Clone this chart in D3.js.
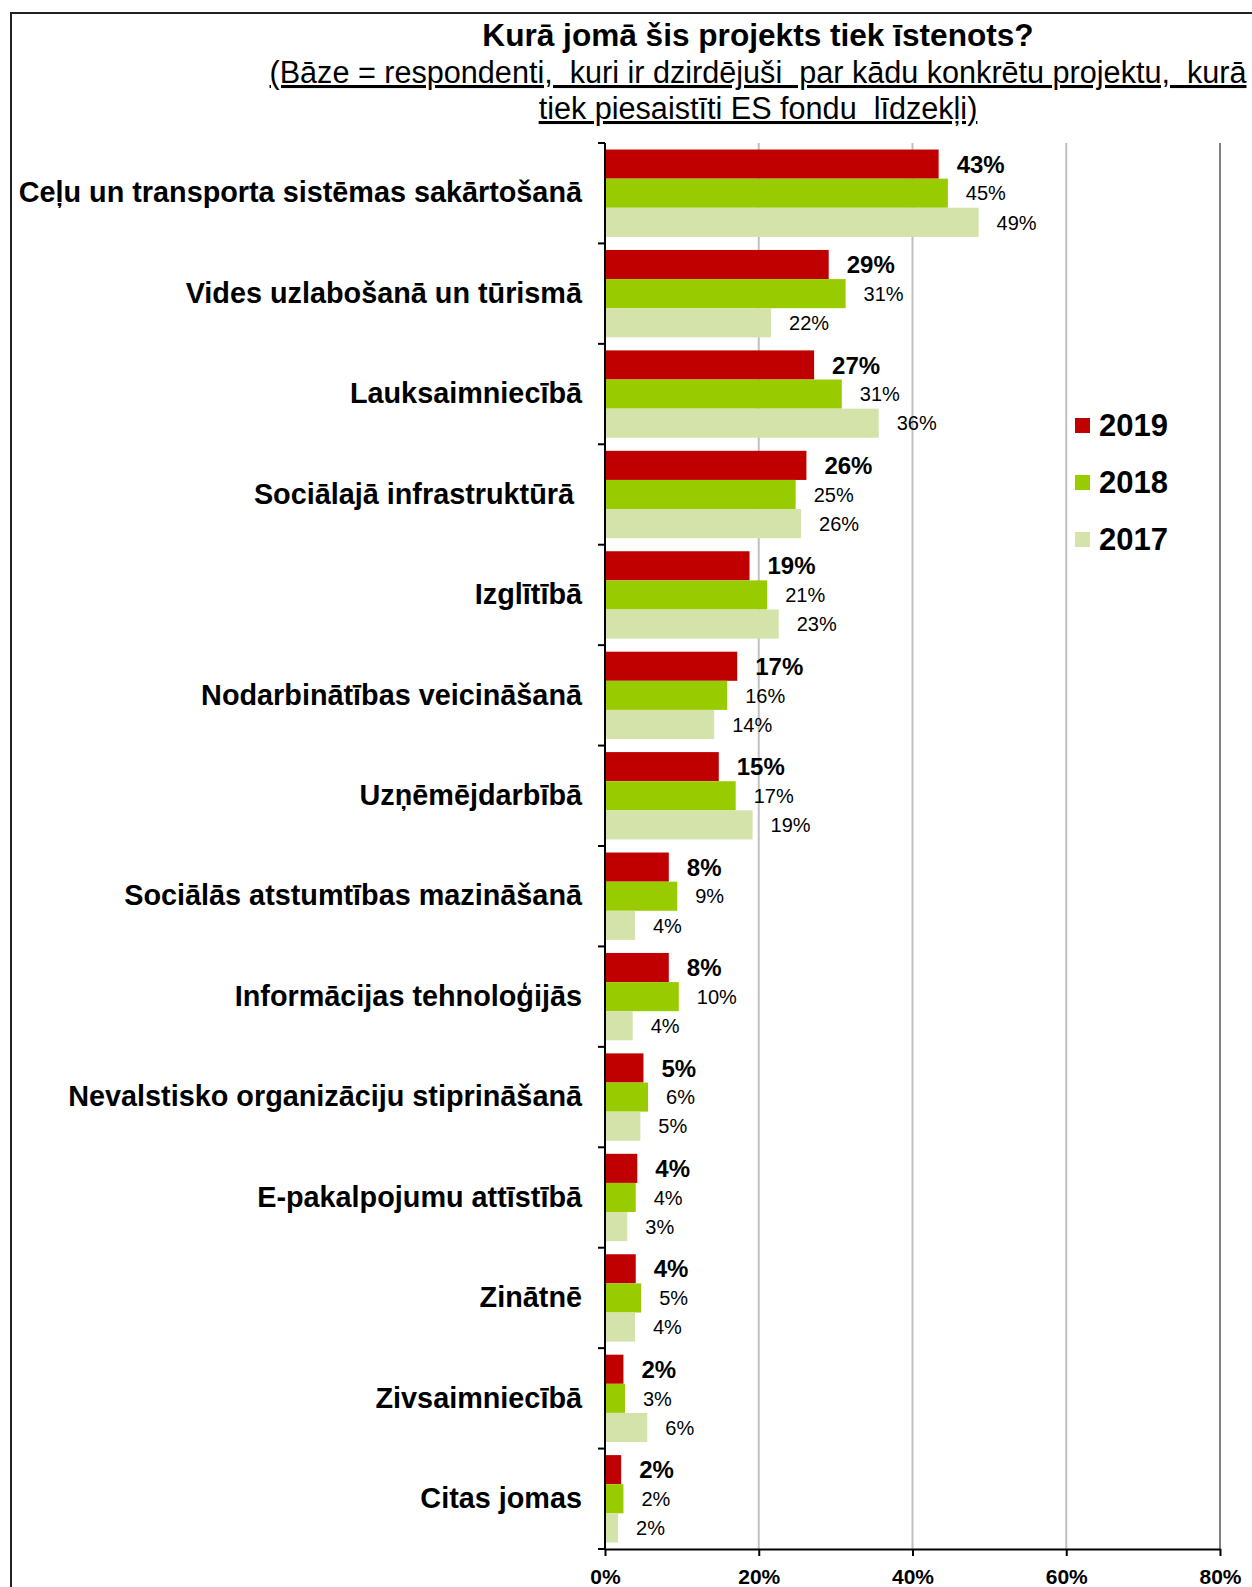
<!DOCTYPE html>
<html>
<head>
<meta charset="utf-8">
<script src="https://cdn.jsdelivr.net/npm/d3@7"></script>
<style>
  html, body { margin: 0; padding: 0; background: #fff; }
  svg { display: block; }
  text { font-family: "Liberation Sans", Arial, sans-serif; fill: #000; }
</style>
</head>
<body>
<svg id="chart" width="1252" height="1587"></svg>
<script>
const categories = [
  "Ceļu un transporta sistēmas sakārtošanā",
  "Vides uzlabošanā un tūrismā",
  "Lauksaimniecībā",
  "Sociālajā infrastruktūrā ",
  "Izglītībā",
  "Nodarbinātības veicināšanā",
  "Uzņēmējdarbībā",
  "Sociālās atstumtības mazināšanā",
  "Informācijas tehnoloģijās",
  "Nevalstisko organizāciju stiprināšanā",
  "E-pakalpojumu attīstībā",
  "Zinātnē",
  "Zivsaimniecībā",
  "Citas jomas"
];
const seriesNames = ["2019", "2018", "2017"];
const values2019 = [43.4, 29.1, 27.2, 26.2, 18.8, 17.2, 14.8, 8.3, 8.3, 5.0, 4.2, 4.0, 2.4, 2.1];
const values2018 = [44.6, 31.3, 30.8, 24.8, 21.1, 15.9, 17.0, 9.4, 9.6, 5.6, 4.0, 4.7, 2.6, 2.4];
const values2017 = [48.6, 21.6, 35.6, 25.5, 22.6, 14.2, 19.2, 3.9, 3.6, 4.6, 2.9, 3.9, 5.5, 1.7];
const xTicks = [0, 20, 40, 60, 80];
const colors = ["#C00000", "#99CC00", "#D3E3AA"];
const titleText = "Kurā jomā šis projekts tiek īstenots?";
const subtitleLines = [
  "(Bāze = respondenti,  kuri ir dzirdējuši  par kādu konkrētu projektu,  kurā",
  "tiek piesaistīti ES fondu  līdzekļi)"
];

const seriesValues = [values2019, values2018, values2017];
const svg = d3.select("#chart");

// outer frame
svg.append("rect").attr("x", 11).attr("y", 13).attr("width", 1400).attr("height", 1800)
  .attr("fill", "none").attr("stroke", "#222").attr("stroke-width", 2);

// title
svg.append("text").attr("x", 758).attr("y", 46).attr("text-anchor", "middle")
  .style("font-size", "31.6px").style("font-weight", "bold").text(titleText);
svg.selectAll(".sub").data(subtitleLines).join("text")
  .attr("class", "sub")
  .attr("x", 758).attr("y", (d, i) => 83 + i * 36)
  .attr("text-anchor", "middle")
  .style("font-size", "30.6px").style("white-space", "pre")
  .style("text-decoration", "underline")
  .text(d => d);

const x = d3.scaleLinear().domain([0, 80]).range([605, 1220]);
const y = d3.scaleBand().domain(categories).range([143, 1549]).paddingInner(0.13).paddingOuter(0.065);
const yInner = d3.scaleBand().domain(seriesNames).range([0, y.bandwidth()]);

// gridlines
svg.append("g").selectAll("line").data(xTicks.slice(1)).join("line")
  .attr("x1", d => x(d)).attr("x2", d => x(d))
  .attr("y1", 143).attr("y2", 1549)
  .attr("stroke", (d, i) => i === xTicks.length - 2 ? "#808080" : "#c0c0c0")
  .attr("stroke-width", 2);

// bars
const rows = categories.map((c, i) => ({ cat: c, vals: seriesNames.map((s, j) => ({ s, j, v: seriesValues[j][i] })) }));
const grp = svg.append("g").selectAll("g").data(rows).join("g")
  .attr("transform", d => `translate(0,${y(d.cat)})`);
grp.selectAll("rect").data(d => d.vals).join("rect")
  .attr("x", x(0)).attr("y", d => yInner(d.s))
  .attr("width", d => x(d.v) - x(0))
  .attr("height", yInner.bandwidth())
  .attr("fill", d => colors[d.j]);
grp.selectAll("text").data(d => d.vals).join("text")
  .attr("x", d => x(d.v) + 18)
  .attr("y", d => yInner(d.s) + yInner.bandwidth() / 2)
  .attr("dy", "0.36em")
  .style("font-size", d => d.j === 0 ? "24px" : "20px")
  .style("font-weight", d => d.j === 0 ? "bold" : "normal")
  .text(d => Math.round(d.v) + "%");

// y axis (category labels)
const yAxis = svg.append("g").attr("transform", `translate(${x(0)},0)`)
  .call(d3.axisLeft(y).tickSize(0).tickPadding(23));
yAxis.select(".domain").remove();
yAxis.selectAll("text").style("font-size", "28.8px").style("font-weight", "bold")
  .style("white-space", "pre").style("font-family", "'Liberation Sans', Arial, sans-serif");

// boundary ticks on y axis
const bounds = d3.range(categories.length + 1).map(i => y.range()[0] + i * y.step());
svg.append("g").selectAll("line").data(bounds).join("line")
  .attr("x1", x(0) - 7).attr("x2", x(0))
  .attr("y1", d => d).attr("y2", d => d)
  .attr("stroke", "#000").attr("stroke-width", 2);
svg.append("line").attr("x1", x(0)).attr("x2", x(0)).attr("y1", 143).attr("y2", 1549)
  .attr("stroke", "#000").attr("stroke-width", 2);

// x axis
const xAxis = svg.append("g").attr("transform", "translate(0,1549)")
  .call(d3.axisBottom(x).tickValues(xTicks).tickFormat(d => d + "%").tickSize(7).tickPadding(13).tickSizeOuter(0));
xAxis.select(".domain").attr("stroke", "#000").attr("stroke-width", 2);
xAxis.selectAll(".tick line").attr("stroke", "#000").attr("stroke-width", 2);
xAxis.selectAll("text").style("font-size", "21px").style("font-weight", "bold")
  .style("font-family", "'Liberation Sans', Arial, sans-serif");

// legend
const leg = svg.append("g").selectAll("g").data(seriesNames).join("g")
  .attr("transform", (d, i) => `translate(1075,${425 + i * 57})`);
leg.append("rect").attr("x", 0).attr("y", -7).attr("width", 15).attr("height", 15)
  .attr("fill", (d, i) => colors[i]);
leg.append("text").attr("x", 24).attr("y", 0).attr("dy", "0.36em")
  .style("font-size", "31px").style("font-weight", "bold").text(d => d);
</script>
</body>
</html>
